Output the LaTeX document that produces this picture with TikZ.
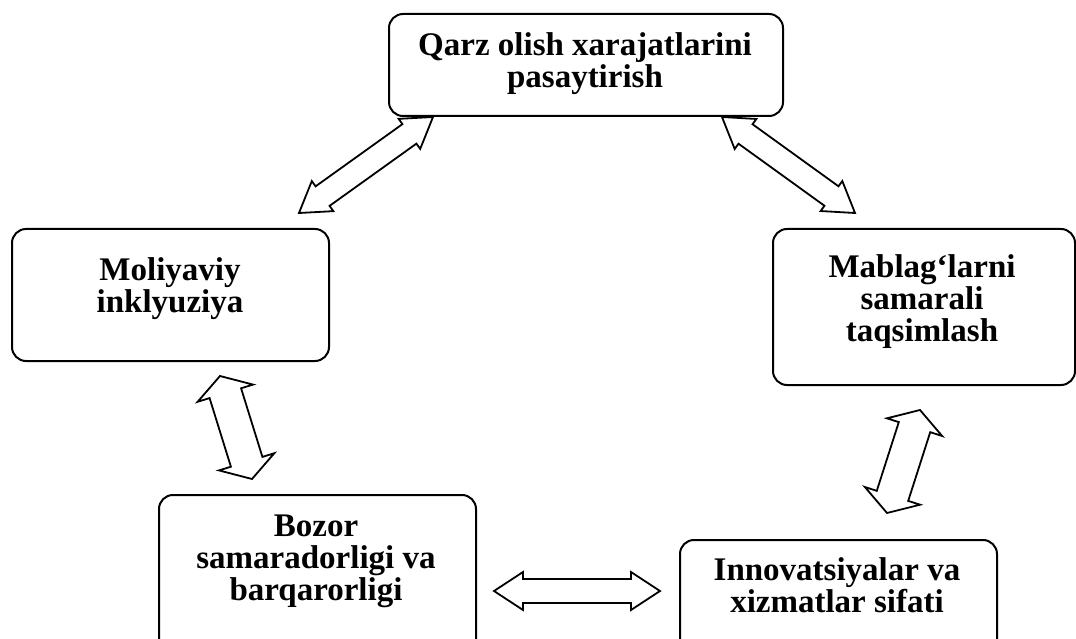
\documentclass[tikz,border=0pt]{standalone}
\usepackage{fontspec}
\setmainfont{Liberation Serif}
\usepackage{tikz}
\usetikzlibrary{calc}

\tikzset{
  box/.style={draw, line width=2pt, rounded corners=14pt, anchor=north west, inner sep=0pt},
  lbl/.style={anchor=north, inner sep=0pt, align=center, font=\bfseries\fontsize{33}{32}\selectfont},
  twoline/.style={draw, line width=1.8pt, fill=white, line join=miter},
}

% #1 from, #2 to, #3 half shaft, #4 half head, #5 head length
\newcommand{\twoway}[5]{%
  \draw[twoline] (#1)
    -- ($(#1)!#5!(#2)!#4!90:(#2)$) -- ($(#1)!#5!(#2)!#3!90:(#2)$)
    -- ($(#2)!#5!(#1)!#3!90:(#2)$) -- ($(#2)!#5!(#1)!#4!90:(#2)$)
    -- (#2)
    -- ($(#2)!#5!(#1)!#4!-90:(#2)$) -- ($(#2)!#5!(#1)!#3!-90:(#2)$)
    -- ($(#1)!#5!(#2)!#3!-90:(#2)$) -- ($(#1)!#5!(#2)!#4!-90:(#2)$)
    -- cycle;}

\begin{document}
\begin{tikzpicture}[x=1pt, y=-1pt]
\useasboundingbox (0,0) rectangle (1076,639);
\clip (0,0) rectangle (1076,639);

% boxes
\node[box, minimum width=394, minimum height=102] (qarz) at (388,13) {};
\node[box, minimum width=317, minimum height=132] (moliya) at (11,228) {};
\node[box, minimum width=302, minimum height=156] (mablag) at (772,228) {};
\node[box, minimum width=317, minimum height=166] (bozor) at (158,494) {};
\node[box, minimum width=317, minimum height=121] (innov) at (679,539) {};

% texts
\node[lbl] (qarz-t) at (585,32.5) {Qarz olish xarajatlarini\\pasaytirish};
\node[lbl] (moliya-t) at (170,257.5) {Moliyaviy\\inklyuziya};
\node[lbl] (mablag-t) at (922,254.5) {Mablag‘larni\\samarali\\taqsimlash};
\node[lbl] (bozor-t) at (316,514.5) {Bozor\\samaradorligi va\\barqarorligi};
\node[lbl] (innov-t) at (837,557.5) {Innovatsiyalar va\\xizmatlar sifati};

% arrow ends
\coordinate (q1) at (433,117);
\coordinate (m1) at (299,213);
\coordinate (q2) at (722,117);
\coordinate (t1) at (855,213);
\coordinate (m2) at (220,376);
\coordinate (b1) at (252,479);
\coordinate (t2) at (920,410);
\coordinate (i1) at (887,513);
\coordinate (b2) at (494,591);
\coordinate (i2) at (660,591);

% arrows
\twoway{q1}{m1}{12pt}{18.5pt}{29pt}
\twoway{q2}{t1}{12pt}{18.5pt}{29pt}
\twoway{m2}{b1}{16.5pt}{29pt}{18pt}
\twoway{t2}{i1}{16.5pt}{29pt}{18pt}
\twoway{b2}{i2}{12pt}{19pt}{29pt}
\end{tikzpicture}
\end{document}
